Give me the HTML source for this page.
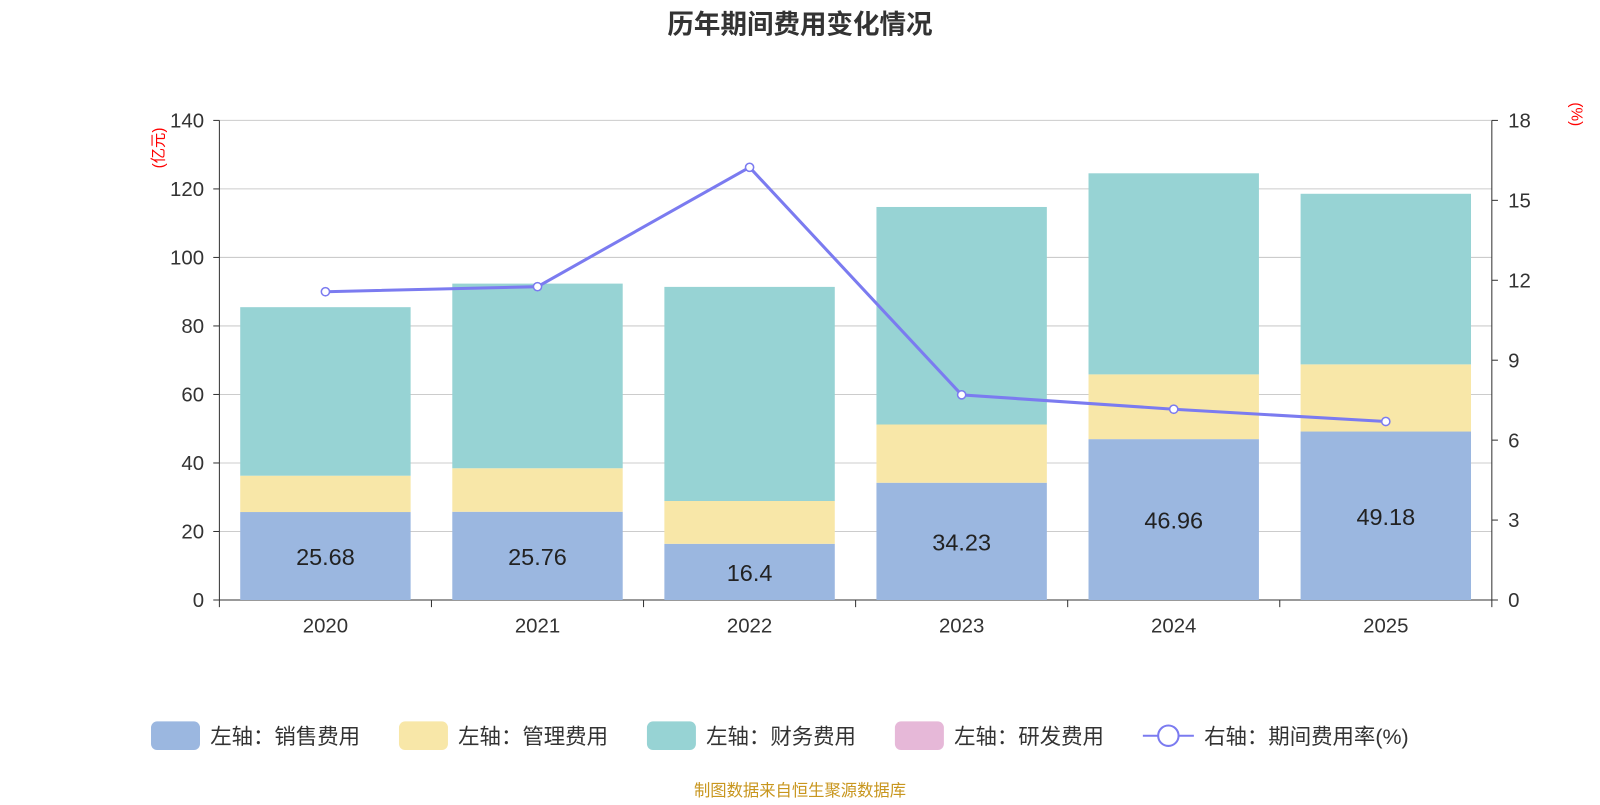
<!DOCTYPE html>
<html><head><meta charset="utf-8"><style>
body{margin:0;background:#fff;width:1600px;height:800px;overflow:hidden;font-family:"Liberation Sans","Noto Sans CJK SC",sans-serif}
</style></head><body>
<svg id="c" width="1600" height="800" viewBox="0 0 1568 784" font-family="Liberation Sans, Noto Sans CJK SC, sans-serif"></svg>
<script>
const categories=["2020","2021","2022","2023","2024","2025"];
const sales=[25.68,25.76,16.4,34.23,46.96,49.18];
const mgmt=[10.6,12.7,12.5,17.0,18.9,19.6];
const fin=[49.2,53.9,62.5,63.5,58.7,49.8];
const rate=[11.57,11.76,16.24,7.70,7.16,6.70];
const leftTicks=[0,20,40,60,80,100,120,140];
const rightTicks=[0,3,6,9,12,15,18];
const NS="http://www.w3.org/2000/svg";
const svg=document.getElementById('c');
const X0=215,X1=1462,Y0=588,Y1=118;
const band=(X1-X0)/categories.length, bw=167;
const yL=v=>Y0-(v/140)*(Y0-Y1);
const yR=v=>Y0-(v/18)*(Y0-Y1);
const xC=i=>X0+band*(i+0.5);
function el(t,a,txt){const e=document.createElementNS(NS,t);for(const k in a)e.setAttribute(k,a[k]);if(txt!==undefined)e.textContent=txt;svg.appendChild(e);return e;}
let t=el('text',{x:784,y:33,'text-anchor':'middle','font-size':26,'font-weight':'bold',fill:'#333'},'历年期间费用变化情况');


leftTicks.forEach(v=>{
 const g=el('line',{x1:X0,x2:X1,y1:yL(v),y2:yL(v),stroke:'#ccc','stroke-width':1});
 
 
 const l=el('text',{x:200,y:yL(v)+7,'text-anchor':'end','font-size':20,fill:'#333'},v);
 
 
 el('line',{x1:X0-6,x2:X0,y1:yL(v),y2:yL(v),stroke:'#333'});
});
rightTicks.forEach(v=>{
 const l=el('text',{x:1478,y:yR(v)+7,'font-size':20,fill:'#333'},v);
 
 
 el('line',{x1:X1,x2:X1+6,y1:yR(v),y2:yR(v),stroke:'#333'});
});
el('line',{x1:X0,x2:X0,y1:Y1,y2:Y0,stroke:'#333'});
el('line',{x1:X1,x2:X1,y1:Y1,y2:Y0,stroke:'#333'});
el('line',{x1:X0,x2:X1,y1:Y0,y2:Y0,stroke:'#333'});
for(let i=0;i<=categories.length;i++)el('line',{x1:X0+band*i,x2:X0+band*i,y1:Y0,y2:Y0+7,stroke:'#333'});
let a=el('text',{x:160,y:145,'font-size':15,fill:'red','text-anchor':'middle',transform:'rotate(-90 160 145)'},'(亿元)');

a=el('text',{x:1540,y:112,'font-size':15,fill:'red','text-anchor':'middle',transform:'rotate(90 1540 112)'},'(%)');

categories.forEach((c,i)=>{
 const x=xC(i)-bw/2;
 const s=el('rect',{x:x,y:yL(sales[i]),width:bw,height:Y0-yL(sales[i]),fill:'#9bb7e0'});
 
 
 const m=el('rect',{x:x,y:yL(sales[i]+mgmt[i]),width:bw,height:yL(sales[i])-yL(sales[i]+mgmt[i]),fill:'#f8e7a8'});
 
 
 const f=el('rect',{x:x,y:yL(sales[i]+mgmt[i]+fin[i]),width:bw,height:yL(sales[i]+mgmt[i])-yL(sales[i]+mgmt[i]+fin[i]),fill:'#97d3d4'});
 
 
 const v=el('text',{x:xC(i),y:(yL(sales[i])+Y0)/2+9,'text-anchor':'middle','font-size':23,fill:'#222'},sales[i]);
 
 
 const l=el('text',{x:xC(i),y:620,'text-anchor':'middle','font-size':20,fill:'#333'},c);
 
 
});
const ln=el('polyline',{points:rate.map((v,i)=>xC(i)+','+yR(v)).join(' '),fill:'none',stroke:'#7b7bf0','stroke-width':3});


rate.forEach((v,i)=>{
 const p=el('circle',{cx:xC(i),cy:yR(v),r:4,fill:'#fff',stroke:'#7b7bf0','stroke-width':1.5});
 
 
});
const leg=[["左轴：销售费用",'#9bb7e0',148],["左轴：管理费用",'#f8e7a8',391],["左轴：财务费用",'#97d3d4',634],["左轴：研发费用",'#e6b8d8',877]];
leg.forEach(([n,c,x])=>{
 const r=el('rect',{x:x,y:707,width:48,height:28,rx:6,fill:c});
 
 
 const tt=el('text',{x:x+58,y:729,'font-size':21,fill:'#333'},n);
 
 
});
el('line',{x1:1120,x2:1170,y1:721,y2:721,stroke:'#7b7bf0','stroke-width':2});
el('circle',{cx:1145,cy:721,r:10,fill:'#fff',stroke:'#7b7bf0','stroke-width':2});
let lt=el('text',{x:1180,y:729,'font-size':21,fill:'#333'},'右轴：期间费用率(%)');


let src=el('text',{x:784,y:780,'text-anchor':'middle','font-size':16,fill:'#c8961e'},'制图数据来自恒生聚源数据库');


</script>
</body></html>
